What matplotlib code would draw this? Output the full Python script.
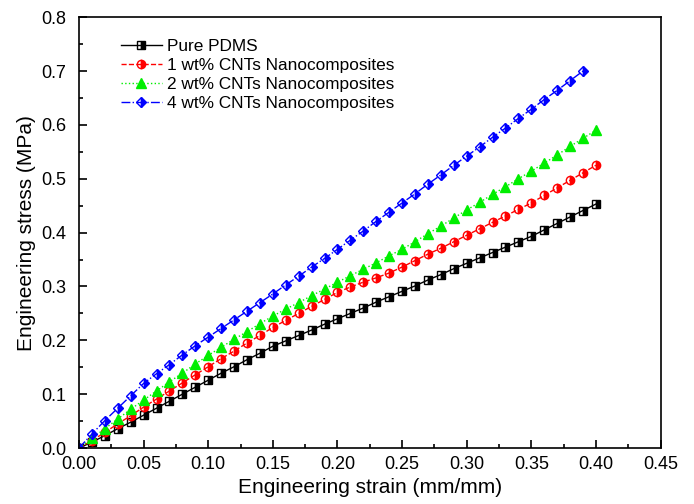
import numpy as np
import matplotlib
matplotlib.use("Agg")
import matplotlib.pyplot as plt
from matplotlib.ticker import MultipleLocator

plt.rcParams['font.family'] = ['Liberation Sans', 'DejaVu Sans']

# strain (mm/mm), every 0.01
strain = np.round(np.arange(0, 41) * 0.01, 2)

pure_pdms = [0.000, 0.011, 0.023, 0.036, 0.048, 0.061, 0.074, 0.087, 0.100, 0.113,
             0.126, 0.139, 0.151, 0.164, 0.176, 0.189, 0.199, 0.209, 0.219, 0.230,
             0.240, 0.250, 0.260, 0.271, 0.281, 0.291, 0.301, 0.312, 0.322, 0.333,
             0.343, 0.353, 0.363, 0.373, 0.383, 0.393, 0.405, 0.417, 0.429, 0.441,
             0.453]
cnt_1wt = [0.000, 0.014, 0.029, 0.045, 0.060, 0.076, 0.091, 0.106, 0.121, 0.136,
           0.151, 0.166, 0.180, 0.195, 0.209, 0.224, 0.237, 0.250, 0.263, 0.276,
           0.289, 0.299, 0.308, 0.316, 0.325, 0.336, 0.348, 0.360, 0.371, 0.383,
           0.395, 0.407, 0.419, 0.431, 0.443, 0.455, 0.469, 0.483, 0.497, 0.511,
           0.525]
cnt_2wt = [0.000, 0.018, 0.036, 0.054, 0.072, 0.089, 0.106, 0.123, 0.139, 0.156,
           0.172, 0.187, 0.202, 0.216, 0.231, 0.245, 0.258, 0.270, 0.283, 0.295,
           0.308, 0.320, 0.332, 0.344, 0.357, 0.369, 0.383, 0.398, 0.412, 0.427,
           0.442, 0.456, 0.471, 0.485, 0.500, 0.514, 0.529, 0.544, 0.560, 0.575,
           0.590]
# 4 wt% stops at 0.39
cnt_4wt = [0.000, 0.026, 0.051, 0.074, 0.097, 0.120, 0.138, 0.155, 0.173, 0.190,
           0.206, 0.222, 0.238, 0.254, 0.270, 0.286, 0.303, 0.319, 0.336, 0.352,
           0.369, 0.386, 0.403, 0.421, 0.438, 0.455, 0.472, 0.490, 0.507, 0.525,
           0.542, 0.559, 0.577, 0.594, 0.612, 0.629, 0.647, 0.664, 0.682, 0.700]

fig = plt.figure(figsize=(6.94, 5.04), dpi=100)
ax = fig.add_axes([0.1138, 0.111, 0.838, 0.855])

ax.plot(strain, pure_pdms, '-', color='black', lw=1, marker='s', ms=5.5,
        fillstyle='right', mec='black', mfc='black', label='Pure PDMS')
ax.plot(strain, cnt_1wt, '--', color='red', lw=1, marker='o', ms=6,
        fillstyle='right', mec='red', mfc='red', label='1 wt% CNTs Nanocomposites')
ax.plot(strain, cnt_2wt, ':', color='#00ee00', lw=1, marker='^', ms=6.5,
        mec='#00ee00', mfc='#00ee00', label='2 wt% CNTs Nanocomposites')
ax.plot(strain[:len(cnt_4wt)], cnt_4wt, '-.', color='blue', lw=1, marker='D', ms=5.5,
        fillstyle='right', mec='blue', mfc='blue', label='4 wt% CNTs Nanocomposites')

ax.set_xlim(0, 0.45)
ax.set_ylim(0, 0.8)
ax.xaxis.set_major_locator(MultipleLocator(0.05))
ax.xaxis.set_minor_locator(MultipleLocator(0.025))
ax.yaxis.set_major_locator(MultipleLocator(0.1))
ax.yaxis.set_minor_locator(MultipleLocator(0.05))
ax.xaxis.set_major_formatter(plt.FormatStrFormatter('%.2f'))
ax.yaxis.set_major_formatter(plt.FormatStrFormatter('%.1f'))
ax.tick_params(which='both', direction='in', top=False, right=False, labelsize=13)
ax.tick_params(axis='x', which='major', pad=6)
ax.tick_params(axis='y', which='major', pad=9)
ax.tick_params(which='major', length=6, width=1.2)
ax.tick_params(which='minor', length=3, width=1.2)
for s in ax.spines.values():
    s.set_linewidth(1.2)

ax.set_xlabel('Engineering strain (mm/mm)', fontsize=15, labelpad=3)
ax.set_ylabel('Engineering stress (MPa)', fontsize=15, labelpad=4)

ax.legend(loc='upper left', bbox_to_anchor=(0.045, 0.985), frameon=False,
          fontsize=12.4, handlelength=2.4, handletextpad=0.3, labelspacing=0.22)

fig.savefig('out.png', dpi=100)
